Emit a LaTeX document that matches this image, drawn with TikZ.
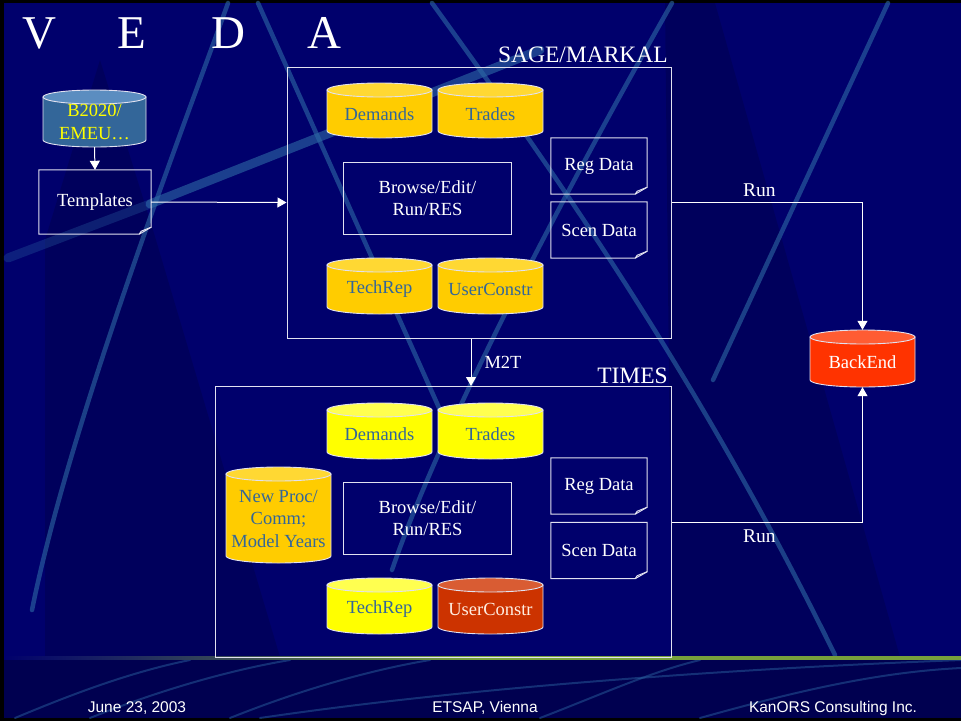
\documentclass[tikz,border=0pt]{standalone}
\usepackage{fontspec}
\setmainfont{Liberation Serif}
\newfontfamily\footfont{Liberation Sans}
\usetikzlibrary{arrows.meta}
\definecolor{navy}{RGB}{0,0,108}
\definecolor{darknavy}{RGB}{0,0,78}
\definecolor{footnavy}{RGB}{0,0,80}
\definecolor{streak}{RGB}{45,105,165}
\definecolor{steel}{RGB}{51,102,153}
\definecolor{steeltop}{RGB}{91,141,192}
\definecolor{gold}{RGB}{255,204,0}
\definecolor{goldtop}{RGB}{255,216,51}
\definecolor{yel}{RGB}{255,255,0}
\definecolor{yeltop}{RGB}{255,255,80}
\definecolor{rust}{RGB}{204,51,0}
\definecolor{rusttop}{RGB}{217,92,51}
\definecolor{brightred}{RGB}{255,51,0}
\definecolor{brightredtop}{RGB}{255,92,51}
\definecolor{lineclr}{RGB}{225,225,240}
\definecolor{lightwhite}{RGB}{255,238,225}
\definecolor{greenline}{RGB}{120,160,60}
\newcommand\dbcyl[9]{%
 \pgfmathsetmacro\cylrx{(#4-#2)/2}%
 \pgfmathsetmacro\cylcx{(#2+#4)/2}%
 \pgfmathsetmacro\cylya{#3+7}%
 \pgfmathsetmacro\cylyb{#5-7}%
 \pgfmathsetmacro\cylcy{(#3+#5)/2}%
 \pgfmathsetmacro\cylty{(#3+7+#5)/2}%
 \pgfmathsetmacro\cylw{#4-#2}%
 \pgfmathsetmacro\cylh{#5-#3}%
 \node[inner sep=0pt, minimum width=\cylw pt, minimum height=\cylh pt] (#1) at (\cylcx,\cylcy) {};
 \filldraw[fill=#6, cylline] (#2,\cylya) -- (#2,\cylyb) arc[start angle=180, end angle=360, x radius=\cylrx pt, y radius=7pt] -- (#4,\cylya) -- cycle;
 \filldraw[fill=#7, cylline] (\cylcx,\cylya) ellipse[x radius=\cylrx pt, y radius=7pt];
 \node[txt, text=#8] (#1-label) at (\cylcx,\cylty) {#9};
}
\newcommand\docshape[1]{%
 \draw[boxline] (#1.north west) -- (#1.north east) -- ([yshift=7pt]#1.south east) -- ([xshift=-12pt]#1.south east) -- (#1.south west) -- cycle;
 \draw[boxline] ([yshift=7pt]#1.south east) -- ([xshift=-10pt,yshift=3pt]#1.south east) -- ([xshift=-12pt]#1.south east);
}
\tikzset{
 txt/.style={font=\fontsize{18.5}{22.5}\selectfont, align=center, inner sep=0pt},
 cylline/.style={draw=lineclr, line width=0.9pt},
 boxline/.style={draw=lineclr, line width=1pt},
 plainbox/.style={boxline, txt, text=white, minimum width=168pt, minimum height=72pt},
 docnode/.style={txt, text=white, minimum width=96pt, minimum height=56pt},
 bigbox/.style={boxline, inner sep=0pt},
 arr/.style={draw=white, line width=1pt, -{Triangle[width=10pt,length=9pt]}},
 streakline/.style={draw=streak, line width=4.5pt, opacity=0.6, line cap=round},
 thinstreak/.style={draw=streak, line width=2pt, opacity=0.45, line cap=round},
 foottxt/.style={font=\footfont\fontsize{15.5}{18}\selectfont, text=white, inner sep=0pt},
}
\begin{document}
\begin{tikzpicture}[x=1pt,y=-1pt]
\useasboundingbox (0,0) rectangle (961,721);
% background
\fill[black] (0,0) rectangle (961,721);
\fill[navy] (4,3) rectangle (961,718);
\fill[darknavy, opacity=0.5] (100,60) -- (153,230) -- (280,657) -- (45,657) -- (45,240) -- cycle;
\fill[darknavy, opacity=0.5] (665,3) -- (715,3) -- (900,657) -- (672,657) -- cycle;
% streaks
\draw[streakline] (228,3) .. controls (190,110) and (70,420) .. (32,610);
\draw[streakline, line width=9pt, opacity=0.3] (8,258) -- (150,204);
\draw[streakline, line width=9pt] (150,204) -- (540,50);
\draw[streakline] (258,3) -- (440,410);
\draw[streakline] (432,3) .. controls (560,180) and (700,380) .. (835,655);
\draw[streakline] (672,3) .. controls (560,200) and (440,430) .. (392,570);
\draw[streakline] (888,3) -- (713,380);
% footer band
\fill[footnavy] (4,659) rectangle (961,718);
\shade[left color=navy, right color=greenline, middle color=greenline] (4,656.5) rectangle (961,659.5);
\begin{scope}
\clip (4,660) rectangle (961,718);
\draw[thinstreak] (15,718) .. controls (70,695) and (130,672) .. (190,660);
\draw[thinstreak] (90,718) .. controls (160,690) and (230,670) .. (290,660);
\draw[thinstreak] (230,718) .. controls (300,690) and (370,670) .. (430,660);
\draw[thinstreak] (260,718) .. controls (450,690) and (700,670) .. (961,660);
\draw[thinstreak] (540,718) .. controls (600,695) and (650,672) .. (700,660);
\draw[thinstreak] (700,718) .. controls (800,690) and (880,672) .. (961,668);
\end{scope}
% title
\node[anchor=base west, text=white, inner sep=0pt, font=\fontsize{47}{50}\selectfont] (title) at (22,48) {V\hspace{61pt}E\hspace{66pt}D\hspace{62pt}A};
% left part
\dbcyl{b2020}{43}{90}{146}{147}{steel}{steeltop}{yel}{\fontsize{18.5}{21}\selectfont B2020/\\EMEU…}
\node[docnode, minimum width=112pt, minimum height=64pt] (tmpl) at (95,202) {Templates};
\docshape{tmpl}
\draw[arr] (b2020.south) -- (tmpl.north);
% SAGE box
\node[bigbox, minimum width=384pt, minimum height=271pt] (sage) at (479,202.5) {};
\node[txt, font=\fontsize{23.5}{26}\selectfont, text=white, anchor=base east] (sagelbl) at (668,62) {SAGE/MARKAL};
\dbcyl{sdem}{327}{83}{432}{138}{gold}{goldtop}{steel}{Demands}
\dbcyl{strd}{438}{83}{543}{138}{gold}{goldtop}{steel}{Trades}
\dbcyl{stech}{327}{258}{432}{314}{gold}{goldtop}{steel}{TechRep}
\dbcyl{suser}{438}{258}{543}{314}{gold}{goldtop}{steel}{UserConstr}
\node[plainbox] (sbrowse) at (427.5,198) {Browse/Edit/\\Run/RES};
\node[docnode] (sreg) at (599,166) {Reg Data};
\docshape{sreg}
\node[docnode] (sscen) at (599,230) {Scen Data};
\docshape{sscen}
\draw[arr] (tmpl.east) -- (sage.west);
% TIMES box
\node[bigbox, minimum width=456pt, minimum height=271pt] (times) at (443,522) {};
\node[txt, font=\fontsize{23.5}{26}\selectfont, text=white, anchor=base east] (timeslbl) at (668,383) {TIMES};
\dbcyl{tdem}{327}{403}{432}{459}{yel}{yeltop}{steel}{Demands}
\dbcyl{ttrd}{438}{403}{543}{459}{yel}{yeltop}{steel}{Trades}
\dbcyl{ttech}{327}{578}{432}{634}{yel}{yeltop}{steel}{TechRep}
\dbcyl{tuser}{438}{578}{543}{634}{rust}{rusttop}{lightwhite}{UserConstr}
\dbcyl{tnew}{226}{467}{331}{563}{gold}{goldtop}{steel}{New Proc/\\Comm;\\Model Years}
\node[plainbox] (tbrowse) at (427.5,518) {Browse/Edit/\\Run/RES};
\node[docnode] (treg) at (599,486) {Reg Data};
\docshape{treg}
\node[docnode] (tscen) at (599,550.5) {Scen Data};
\docshape{tscen}
% M2T
\draw[arr] ([xshift=-8pt]sage.south) -- ([xshift=-8pt]sage.south |- times.north) node[midway, right=13pt, txt, text=white] (m2t) {M2T};
% BackEnd
\dbcyl{backend}{810}{330}{915}{387}{brightred}{brightredtop}{white}{BackEnd}
\draw[arr] (sage.east) -| (backend.north) node[pos=0.23, above=5pt, txt, font=\fontsize{19.5}{22}\selectfont, text=white] (run1) {Run};
\draw[arr] (times.east) -| (backend.south) node[pos=0.23, below=7pt, txt, font=\fontsize{19.5}{22}\selectfont, text=white] (run2) {Run};
% footer
\node[foottxt] (date) at (137,708) {June 23, 2003};
\node[foottxt] (etsap) at (485,708) {ETSAP, Vienna};
\node[foottxt] (kanors) at (833,708) {KanORS Consulting Inc.};
\end{tikzpicture}
\end{document}
